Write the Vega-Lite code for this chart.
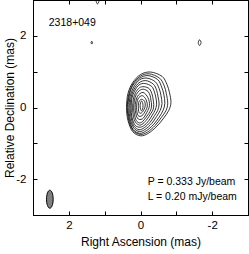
{
  "$schema": "https://vega.github.io/schema/vega-lite/v6.json",
  "autosize": {"type": "none"},
  "padding": {"left": 33, "top": 0, "right": 1, "bottom": 39},
  "width": 215,
  "height": 215,
  "background": "white",
  "config": {
    "view": {"stroke": "black", "strokeWidth": 1},
    "axis": {
      "values": [-3, -2, -1, 0, 1, 2, 3],
      "labelExpr": "datum.value % 2 == 0 ? toString(datum.value) : ''",
      "ticks": false,
      "grid": true,
      "gridColor": "black",
      "gridOpacity": 1,
      "gridWidth": 1,
      "gridDash": [4, 207],
      "domainColor": "black",
      "labelColor": "black",
      "titleColor": "black",
      "labelFont": "Liberation Sans",
      "titleFont": "Liberation Sans",
      "labelFontSize": 11.5,
      "titleFontSize": 12,
      "titleFontWeight": "normal",
      "labelFlush": false,
      "labelOverlap": false
    },
    "text": {"font": "Liberation Sans"}
  },
  "datasets": {
    "contours": [
      {"c":1,"o":1,"x":0.01,"y":0.045},{"c":1,"o":2,"x":0.0,"y":0.13},{"c":1,"o":3,"x":-0.03,"y":0.18},{"c":1,"o":4,"x":-0.06,"y":0.13},{"c":1,"o":5,"x":-0.07,"y":0.045},{"c":1,"o":6,"x":-0.06,"y":-0.04},{"c":1,"o":7,"x":-0.03,"y":-0.09},{"c":1,"o":8,"x":0.0,"y":-0.04},
      {"c":2,"o":1,"x":-0.04,"y":0.23},{"c":2,"o":2,"x":-0.12,"y":0.16},{"c":2,"o":3,"x":-0.13,"y":0.04},{"c":2,"o":4,"x":-0.10,"y":-0.05},{"c":2,"o":5,"x":-0.03,"y":-0.15},{"c":2,"o":6,"x":0.04,"y":-0.14},{"c":2,"o":7,"x":0.06,"y":0.02},{"c":2,"o":8,"x":0.04,"y":0.17},
      {"c":3,"o":1,"x":-0.05,"y":0.33},{"c":3,"o":2,"x":-0.16,"y":0.21},{"c":3,"o":3,"x":-0.19,"y":0.04},{"c":3,"o":4,"x":-0.14,"y":-0.09},{"c":3,"o":5,"x":-0.04,"y":-0.23},{"c":3,"o":6,"x":0.07,"y":-0.22},{"c":3,"o":7,"x":0.11,"y":0.0},{"c":3,"o":8,"x":0.07,"y":0.24},
      {"c":4,"o":1,"x":-0.07,"y":0.42},{"c":4,"o":2,"x":-0.21,"y":0.27},{"c":4,"o":3,"x":-0.25,"y":0.06},{"c":4,"o":4,"x":-0.18,"y":-0.13},{"c":4,"o":5,"x":-0.05,"y":-0.32},{"c":4,"o":6,"x":0.09,"y":-0.29},{"c":4,"o":7,"x":0.15,"y":0.0},{"c":4,"o":8,"x":0.09,"y":0.30},
      {"c":5,"o":1,"x":-0.08,"y":0.51},{"c":5,"o":2,"x":-0.21,"y":0.45},{"c":5,"o":3,"x":-0.27,"y":0.33},{"c":5,"o":4,"x":-0.29,"y":0.21},{"c":5,"o":5,"x":-0.31,"y":0.07},{"c":5,"o":6,"x":-0.29,"y":-0.05},{"c":5,"o":7,"x":-0.23,"y":-0.17},{"c":5,"o":8,"x":-0.15,"y":-0.28},{"c":5,"o":9,"x":-0.06,"y":-0.39},{"c":5,"o":10,"x":0.03,"y":-0.43},{"c":5,"o":11,"x":0.12,"y":-0.36},{"c":5,"o":12,"x":0.17,"y":-0.19},{"c":5,"o":13,"x":0.19,"y":-0.01},{"c":5,"o":14,"x":0.17,"y":0.20},{"c":5,"o":15,"x":0.12,"y":0.36},{"c":5,"o":16,"x":0.03,"y":0.47},
      {"c":6,"o":1,"x":-0.10,"y":0.58},{"c":6,"o":2,"x":-0.25,"y":0.52},{"c":6,"o":3,"x":-0.32,"y":0.38},{"c":6,"o":4,"x":-0.35,"y":0.24},{"c":6,"o":5,"x":-0.37,"y":0.08},{"c":6,"o":6,"x":-0.35,"y":-0.06},{"c":6,"o":7,"x":-0.28,"y":-0.18},{"c":6,"o":8,"x":-0.19,"y":-0.32},{"c":6,"o":9,"x":-0.07,"y":-0.45},{"c":6,"o":10,"x":0.03,"y":-0.49},{"c":6,"o":11,"x":0.14,"y":-0.41},{"c":6,"o":12,"x":0.20,"y":-0.24},{"c":6,"o":13,"x":0.22,"y":-0.01},{"c":6,"o":14,"x":0.20,"y":0.23},{"c":6,"o":15,"x":0.14,"y":0.41},{"c":6,"o":16,"x":0.03,"y":0.55},
      {"c":7,"o":1,"x":-0.12,"y":0.67},{"c":7,"o":2,"x":-0.31,"y":0.59},{"c":7,"o":3,"x":-0.39,"y":0.43},{"c":7,"o":4,"x":-0.43,"y":0.27},{"c":7,"o":5,"x":-0.45,"y":0.09},{"c":7,"o":6,"x":-0.41,"y":-0.07},{"c":7,"o":7,"x":-0.33,"y":-0.21},{"c":7,"o":8,"x":-0.23,"y":-0.37},{"c":7,"o":9,"x":-0.09,"y":-0.51},{"c":7,"o":10,"x":0.04,"y":-0.55},{"c":7,"o":11,"x":0.16,"y":-0.48},{"c":7,"o":12,"x":0.24,"y":-0.26},{"c":7,"o":13,"x":0.26,"y":-0.01},{"c":7,"o":14,"x":0.24,"y":0.26},{"c":7,"o":15,"x":0.16,"y":0.47},{"c":7,"o":16,"x":0.04,"y":0.63},
      {"c":8,"o":1,"x":-0.15,"y":0.75},{"c":8,"o":2,"x":-0.36,"y":0.65},{"c":8,"o":3,"x":-0.45,"y":0.48},{"c":8,"o":4,"x":-0.49,"y":0.30},{"c":8,"o":5,"x":-0.52,"y":0.10},{"c":8,"o":6,"x":-0.48,"y":-0.08},{"c":8,"o":7,"x":-0.39,"y":-0.23},{"c":8,"o":8,"x":-0.27,"y":-0.41},{"c":8,"o":9,"x":-0.11,"y":-0.56},{"c":8,"o":10,"x":0.04,"y":-0.62},{"c":8,"o":11,"x":0.18,"y":-0.52},{"c":8,"o":12,"x":0.26,"y":-0.29},{"c":8,"o":13,"x":0.29,"y":-0.02},{"c":8,"o":14,"x":0.26,"y":0.29},{"c":8,"o":15,"x":0.18,"y":0.51},{"c":8,"o":16,"x":0.04,"y":0.69},
      {"c":9,"o":1,"x":-0.18,"y":0.82},{"c":9,"o":2,"x":-0.41,"y":0.72},{"c":9,"o":3,"x":-0.52,"y":0.53},{"c":9,"o":4,"x":-0.57,"y":0.34},{"c":9,"o":5,"x":-0.60,"y":0.11},{"c":9,"o":6,"x":-0.55,"y":-0.08},{"c":9,"o":7,"x":-0.45,"y":-0.25},{"c":9,"o":8,"x":-0.31,"y":-0.45},{"c":9,"o":9,"x":-0.13,"y":-0.61},{"c":9,"o":10,"x":0.03,"y":-0.67},{"c":9,"o":11,"x":0.19,"y":-0.57},{"c":9,"o":12,"x":0.29,"y":-0.31},{"c":9,"o":13,"x":0.32,"y":-0.02},{"c":9,"o":14,"x":0.29,"y":0.31},{"c":9,"o":15,"x":0.19,"y":0.57},{"c":9,"o":16,"x":0.03,"y":0.77},
      {"c":10,"o":1,"x":-0.21,"y":0.89},{"c":10,"o":2,"x":-0.48,"y":0.78},{"c":10,"o":3,"x":-0.59,"y":0.57},{"c":10,"o":4,"x":-0.65,"y":0.37},{"c":10,"o":5,"x":-0.68,"y":0.12},{"c":10,"o":6,"x":-0.63,"y":-0.08},{"c":10,"o":7,"x":-0.52,"y":-0.27},{"c":10,"o":8,"x":-0.36,"y":-0.48},{"c":10,"o":9,"x":-0.16,"y":-0.65},{"c":10,"o":10,"x":0.02,"y":-0.72},{"c":10,"o":11,"x":0.21,"y":-0.61},{"c":10,"o":12,"x":0.31,"y":-0.33},{"c":10,"o":13,"x":0.35,"y":-0.01},{"c":10,"o":14,"x":0.31,"y":0.35},{"c":10,"o":15,"x":0.21,"y":0.62},{"c":10,"o":16,"x":0.02,"y":0.82},
      {"c":11,"o":1,"x":-0.24,"y":0.94},{"c":11,"o":2,"x":-0.53,"y":0.82},{"c":11,"o":3,"x":-0.66,"y":0.61},{"c":11,"o":4,"x":-0.72,"y":0.39},{"c":11,"o":5,"x":-0.76,"y":0.12},{"c":11,"o":6,"x":-0.71,"y":-0.09},{"c":11,"o":7,"x":-0.58,"y":-0.28},{"c":11,"o":8,"x":-0.41,"y":-0.50},{"c":11,"o":9,"x":-0.19,"y":-0.69},{"c":11,"o":10,"x":0.01,"y":-0.75},{"c":11,"o":11,"x":0.21,"y":-0.64},{"c":11,"o":12,"x":0.33,"y":-0.35},{"c":11,"o":13,"x":0.37,"y":0.0},{"c":11,"o":14,"x":0.33,"y":0.36},{"c":11,"o":15,"x":0.21,"y":0.66},{"c":11,"o":16,"x":0.01,"y":0.87},
      {"c":12,"o":1,"x":-0.28,"y":0.99},{"c":12,"o":2,"x":-0.60,"y":0.87},{"c":12,"o":3,"x":-0.74,"y":0.64},{"c":12,"o":4,"x":-0.81,"y":0.41},{"c":12,"o":5,"x":-0.85,"y":0.14},{"c":12,"o":6,"x":-0.79,"y":-0.08},{"c":12,"o":7,"x":-0.65,"y":-0.29},{"c":12,"o":8,"x":-0.46,"y":-0.52},{"c":12,"o":9,"x":-0.22,"y":-0.72},{"c":12,"o":10,"x":0.0,"y":-0.79},{"c":12,"o":11,"x":0.22,"y":-0.67},{"c":12,"o":12,"x":0.35,"y":-0.36},{"c":12,"o":13,"x":0.39,"y":0.0},{"c":12,"o":14,"x":0.35,"y":0.39},{"c":12,"o":15,"x":0.22,"y":0.69},{"c":12,"o":16,"x":0.0,"y":0.92},
      {"c":13,"o":1,"x":1.38,"y":1.81},{"c":13,"o":2,"x":1.36,"y":1.85},{"c":13,"o":3,"x":1.34,"y":1.81},{"c":13,"o":4,"x":1.36,"y":1.77},
      {"c":14,"o":1,"x":-1.61,"y":1.81},{"c":14,"o":2,"x":-1.65,"y":1.89},{"c":14,"o":3,"x":-1.69,"y":1.81},{"c":14,"o":4,"x":-1.65,"y":1.73},
      {"c":15,"o":1,"x":1.24,"y":2.98},{"c":15,"o":2,"x":1.20,"y":3.07},{"c":15,"o":3,"x":1.16,"y":2.98},{"c":15,"o":4,"x":1.20,"y":2.89}
    ],
    "beam": [{"x": 2.53, "y": -2.56}],
    "labels": [
      {"x": 2.56, "y": 2.35, "label": "2318+049"},
      {"x": -0.2, "y": -2.09, "label": "P = 0.333 Jy/beam"},
      {"x": -0.2, "y": -2.51, "label": "L = 0.20 mJy/beam"}
    ]
  },
  "layer": [
    {
      "data": {"name": "contours"},
      "mark": {"type": "line", "interpolate": "cardinal-closed", "color": "black", "strokeWidth": 0.8, "clip": true},
      "encoding": {
        "x": {"field": "x", "type": "quantitative", "scale": {"domain": [-3, 3], "reverse": true, "nice": false, "zero": false},
              "axis": {"orient": "bottom", "title": "Right Ascension (mas)", "labelPadding": 4, "titleX": 107.5, "titleY": 21.5}},
        "y": {"field": "y", "type": "quantitative", "scale": {"domain": [-3, 3], "nice": false, "zero": false},
              "axis": {"orient": "left", "title": "Relative Declination (mas)", "labelPadding": 7, "titleX": -16.5, "titleY": 107.5}},
        "detail": {"field": "c", "type": "nominal"},
        "order": {"field": "o", "type": "quantitative"}
      }
    },
    {
      "data": {"name": "beam"},
      "mark": {"type": "point", "shape": "M0,-1A0.37,1,0,1,1,0,1A0.37,1,0,1,1,0,-1Z", "size": 324, "filled": true, "fill": "#7f7f7f", "stroke": "black", "strokeWidth": 1, "opacity": 1},
      "encoding": {
        "x": {"field": "x", "type": "quantitative"},
        "y": {"field": "y", "type": "quantitative"}
      }
    },
    {
      "data": {"name": "labels"},
      "mark": {"type": "text", "align": "left", "baseline": "middle", "fontSize": 10.5, "color": "black"},
      "encoding": {
        "x": {"field": "x", "type": "quantitative"},
        "y": {"field": "y", "type": "quantitative"},
        "text": {"field": "label"}
      }
    }
  ]
}
